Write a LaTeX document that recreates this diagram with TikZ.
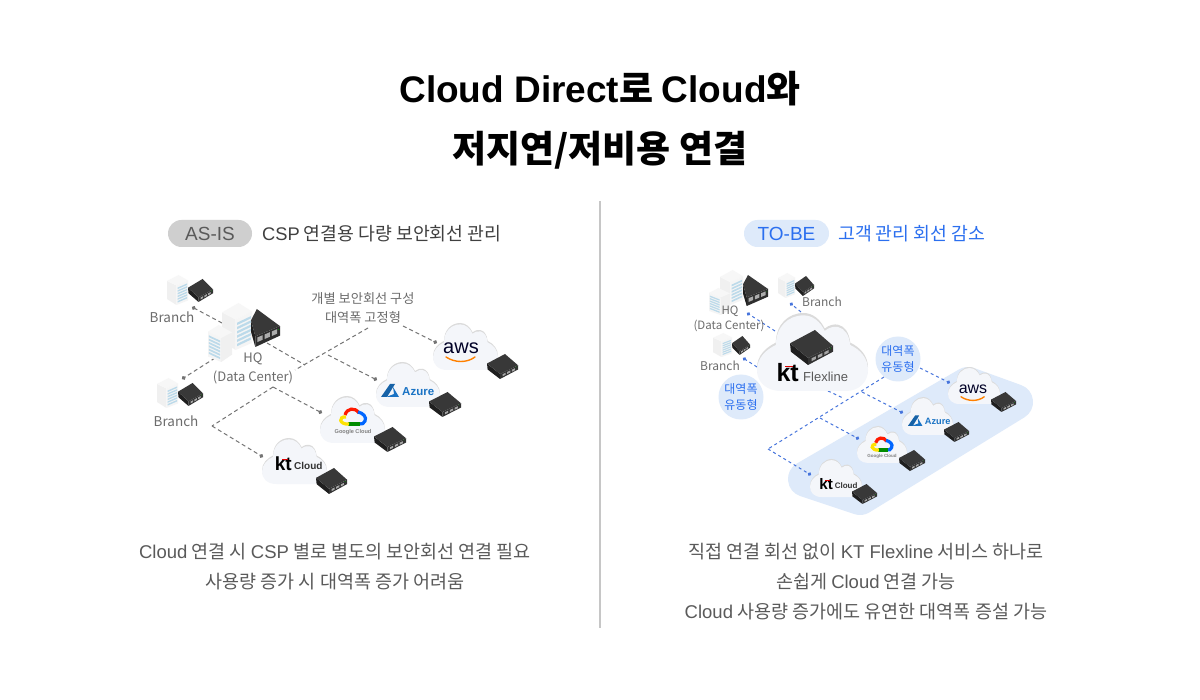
\documentclass[tikz,border=0pt]{standalone}
\usepackage{fontspec}
\setmainfont{Noto Sans CJK KR}
\newfontfamily\en{Liberation Sans}
\usetikzlibrary{arrows.meta}
\usetikzlibrary{positioning}

\definecolor{inkgrey}{HTML}{5A5A5A}
\definecolor{tobeblue}{HTML}{2B6FEF}
\definecolor{linkgrey}{HTML}{747474}
\definecolor{linkblue}{HTML}{4674DC}
\definecolor{softblue}{HTML}{DEEAFA}
\definecolor{windowblue}{HTML}{BCDAEA}
\definecolor{cloudbody}{HTML}{F4F6FA}
\definecolor{azureblue}{HTML}{1A73C4}

\newcommand{\cloudoutline}{(22,97) .. controls (8,97) and (0,85) .. (0,70) .. controls (0,55) and (8,44) .. (17,38) .. controls (17,15) and (28,0) .. (42,0) .. controls (50,0) and (57,8) .. (61,20) .. controls (65,15) and (70,14) .. (73,15) .. controls (79,17) and (83,25) .. (84,38) .. controls (93,44) and (100,55) .. (100,70) .. controls (100,85) and (92,97) .. (80,97) -- cycle}

\tikzset{
  titletext/.style = {font=\fontsize{37}{42}\selectfont\bfseries},
  headtext/.style = {font=\fontsize{18.3}{22}\selectfont, text=#1, anchor=west, inner sep=0pt},
  pilltext/.style = {font=\en\fontsize{19}{22}\selectfont, text=#1},
  captext/.style = {font=\fontsize{18.5}{22}\selectfont, text=inkgrey},
  smalltext/.style = {font=\fontsize{#1}{16}\selectfont, text=gray!85!black, inner sep=0pt},
  blobtext/.style = {font=\fontsize{12}{16}\selectfont, text=tobeblue, align=center, circle, fill=softblue, minimum size=45pt, inner sep=0pt},
  greylink/.style = {draw=linkgrey, line width=1pt, dash pattern=on 4pt off 3pt, -{Circle[length=4pt]}},
  greyline/.style = {draw=linkgrey, line width=1pt, dash pattern=on 4pt off 3pt},
  bluelink/.style = {draw=linkblue, line width=1pt, dash pattern=on 3pt off 3pt, -{Circle[length=3.5pt]}},
  blueline/.style = {draw=linkblue, line width=1pt, dash pattern=on 3pt off 3pt},
  serverpic/.pic = {
    \fill[black!88] (0,38) -- (42,80) -- (42,100) -- (2,62) -- cycle;
    \fill[black!80] (42,80) -- (100,45) -- (100,62) -- (42,100) -- cycle;
    \fill[black!78] (58,0) -- (100,45) -- (42,80) -- (0,38) -- cycle;
    \foreach \i in {0,1,2} \fill[gray!70] (50+\i*15,81-\i*9) -- (60+\i*15,75-\i*9) -- (60+\i*15,83-\i*9) -- (50+\i*15,89-\i*9) -- cycle;
    \fill[green!60!black] (94,52) circle (1.5);
  },
  tallserverpic/.pic = {
    \fill[black!88] (0,30) -- (15,72) -- (15,100) -- (0,60) -- cycle;
    \fill[black!82] (15,72) -- (100,45) -- (100,70) -- (15,100) -- cycle;
    \fill[black!78] (20,0) -- (100,45) -- (15,72) -- (0,30) -- cycle;
    \foreach \i in {0,1,2} \fill[gray!65] (22+\i*25,75-\i*8) -- (40+\i*25,69-\i*8) -- (40+\i*25,81-\i*8) -- (22+\i*25,87-\i*8) -- cycle;
    \fill[green!60!black] (95,54) circle (1.5);
  },
  towerpic/.pic = {
    \fill[gray!12] (0,20) -- (45,35) -- (45,100) -- (0,80) -- cycle;
    \fill[gray!6] (55,0) -- (100,18) -- (45,35) -- (0,20) -- cycle;
    \fill[white!92!gray] (45,35) -- (100,18) -- (100,85) -- (45,100) -- cycle;
    \foreach \i in {0,...,5} \fill[windowblue] (50,42+\i*9) -- (96,28+\i*9) -- (96,33+\i*9) -- (50,47+\i*9) -- cycle;
  },
  cloudpic/.pic = {
    \fill[gray!28] \cloudoutline;
    \fill[cloudbody, shift={(0,3)}] \cloudoutline;
  },
  awslogo/.pic = {
    \node[transform shape, inner sep=0pt, text=black!85!blue, font=\en\fontsize{20}{22}\selectfont] (awstext) at (0,-3) {aws};
    \draw[orange, line width=1.4pt, line cap=round] (-15,6) .. controls (-6,12) and (6,12) .. (14,6);
  },
  azurelogo/.pic = {
    \fill[azureblue!85!black] (-25,6) -- (-16,-7) -- (-11,-7) -- (-19,6) -- cycle;
    \fill[azureblue] (-13,-4) -- (-7,6) -- (-20,6) -- (-12,3) -- cycle;
    \node[transform shape, anchor=west, inner sep=0pt, text=azureblue, font=\en\fontsize{11.5}{14}\selectfont\bfseries] (azuretext) at (-4,1) {Azure};
  },
  googlelogo/.pic = {
    \begin{scope}[line width=3.2pt]
      \draw[red!80!orange] (-8,-4) .. controls (-6,-11) and (2,-12) .. (6,-6);
      \draw[blue!60!cyan] (5,-7) .. controls (10,-6) and (14,-2) .. (12,2) .. controls (11,5) and (9,5) .. (6,5);
      \draw[green!55!black] (7,5) -- (-5,5);
      \draw[yellow!85!orange] (-4,5) .. controls (-14,6) and (-15,-3) .. (-7,-2);
    \end{scope}
    \node[transform shape, inner sep=0pt, text=gray, font=\en\fontsize{5.6}{8}\selectfont\bfseries] (googletext) at (0,13) {Google Cloud};
  },
  ktlogo/.pic = {
    \node[transform shape, anchor=east, inner sep=0pt, text=black, font=\en\fontsize{19}{22}\selectfont\bfseries] (kttext) at (-5,0) {kt};
    \fill[red!85!black] (-15,-5) rectangle (-9,-4);
    \node[transform shape, anchor=west, inner sep=0pt, text=black!80, font=\en\fontsize{10}{14}\selectfont\bfseries] (cloudtext) at (-3,2) {Cloud};
  }
}

\begin{document}
\begin{tikzpicture}[x=1pt,y=-1pt]
	\useasboundingbox (0,0) rectangle (1200,700);
	\fill[white] (0,0) rectangle (1200,700);

	% title
	\node[titletext] (titleA) at (600,89) {{\en Cloud Direct}로 {\en Cloud}와};
	\node[titletext] (titleB) at (600,150) {저지연/저비용 연결};

	\coordinate (midTop) at (600,201);
	\coordinate (midEnd) at (600,628);
	\draw[gray!45, line width=1.3pt] (midTop) -- (midEnd);

	% headers
	\node[pilltext=inkgrey, fill=gray!38, rounded corners=13.5pt, minimum width=84pt, minimum height=27pt, inner sep=0pt] (asis) at (210,233.5) {AS-IS};
	\node[headtext=black!75] (asisText) at (262,234) {{\en CSP} 연결용 다량 보안회선 관리};
	\node[pilltext=tobeblue, fill=softblue, rounded corners=13.5pt, minimum width=85pt, minimum height=27pt, inner sep=0pt] (tobe) at (786.5,233.5) {TO-BE};
	\node[headtext=tobeblue] (tobeText) at (838,234) {고객 관리 회선 감소};

	% AS-IS links
	\coordinate (lBranchA) at (192,307);
	\coordinate (lHqA) at (222,323);
	\coordinate (lBranchB) at (182,379);
	\coordinate (lHqB) at (215,358);
	\coordinate (lHqC) at (267,343);
	\coordinate (lMid) at (305,365);
	\coordinate (lSplitA) at (403,326);
	\coordinate (lDiagA) at (368,328);
	\coordinate (lDiagB) at (295,370);
	\coordinate (lDiagC) at (273,387);
	\coordinate (lFork) at (212,426);
	\coordinate (lAws) at (437,343);
	\coordinate (lAzureS) at (328,355);
	\coordinate (lAzure) at (377,380);
	\coordinate (lGoogle) at (322,413);
	\coordinate (lKt) at (263,457);
	\draw[greylink] (lHqA) -- (lBranchA);
	\draw[greylink] (lHqB) -- (lBranchB);
	\draw[greyline] (lHqC) -- (lMid);
	\draw[greyline] (lDiagA) -- (lDiagB);
	\draw[greyline] (lDiagC) -- (lFork);
	\draw[greylink] (lSplitA) -- (lAws);
	\draw[greylink] (lAzureS) -- (lAzure);
	\draw[greylink] (lDiagC) -- (lGoogle);
	\draw[greylink] (lFork) -- (lKt);

	% AS-IS sites
	\pic[xscale=.21,yscale=.30] (lTowerA) at (167,275) {towerpic};
	\pic[xscale=.25,yscale=.23] (lServerA) at (188,279) {serverpic};
	\pic[xscale=.30,yscale=.47] (lTowerB) at (222,303) {towerpic};
	\pic[xscale=-.24,yscale=.37] (lTowerC) at (232,325) {towerpic};
	\pic[xscale=.29,yscale=.38] (lServerB) at (251,309) {tallserverpic};
	\pic[xscale=.21,yscale=.30] (lTowerD) at (157,378) {towerpic};
	\pic[xscale=.25,yscale=.23] (lServerC) at (178,383) {serverpic};

	\node[smalltext=13.5] (lBranchTextA) at (172,317) {Branch};
	\node[smalltext=13.5] (lBranchTextB) at (176,421) {Branch};
	\node[smalltext=13] (lHqText) at (253,359) {HQ};
	\node[smalltext=13] (lDcText) at (253,377) {(Data Center)};
	\node[smalltext=13.2] (lNoteA) at (363,299) {개별 보안회선 구성};
	\node[smalltext=13.2] (lNoteB) at (363,318) {대역폭 고정형};

	% AS-IS clouds
	\pic[xscale=.65,yscale=.47] (lCloudA) at (433,323) {cloudpic};
	\pic[xscale=.64,yscale=.45] (lCloudB) at (376,362) {cloudpic};
	\pic[xscale=.65,yscale=.47] (lCloudC) at (320,396) {cloudpic};
	\pic[xscale=.65,yscale=.46] (lCloudD) at (262,438) {cloudpic};
	\pic (lAwsLogo) at (461,351) {awslogo};
	\pic (lAzureLogo) at (406,391) {azurelogo};
	\pic (lGoogleLogo) at (353,419) {googlelogo};
	\pic (lKtLogo) at (297,464) {ktlogo};
	\pic[xscale=.31,yscale=.25] (lServerD) at (487,354) {serverpic};
	\pic[xscale=.32,yscale=.25] (lServerE) at (429,392) {serverpic};
	\pic[xscale=.32,yscale=.25] (lServerF) at (374,427) {serverpic};
	\pic[xscale=.31,yscale=.26] (lServerG) at (316,468) {serverpic};

	% TO-BE pad
	\fill[softblue, line width=36pt, line join=round, draw=softblue] (806,479) -- (968,385) -- (1015,402) -- (860,497) -- cycle;

	% TO-BE links
	\coordinate (rCloudA) at (801,312);
	\coordinate (rBranchA) at (790,303);
	\coordinate (rCloudB) at (775,331);
	\coordinate (rHq) at (747,313);
	\coordinate (rCloudC) at (757,367);
	\coordinate (rBranchB) at (743,358);
	\coordinate (rOutA) at (828,391);
	\coordinate (rOutB) at (843,398);
	\coordinate (rDiagA) at (884,377);
	\coordinate (rFork) at (768,449);
	\coordinate (rKt) at (811,475);
	\coordinate (rBlob) at (920,368);
	\coordinate (rAws) at (950,383);
	\coordinate (rAzureS) at (862,392);
	\coordinate (rAzure) at (903,413);
	\coordinate (rGoogleS) at (820,418);
	\coordinate (rGoogle) at (859,439);
	\draw[bluelink] (rCloudA) -- (rBranchA);
	\draw[bluelink] (rCloudB) -- (rHq);
	\draw[bluelink] (rCloudC) -- (rBranchB);
	\draw[blueline] (rOutA) -- (rOutB);
	\draw[blueline] (rDiagA) -- (rFork);
	\draw[bluelink] (rFork) -- (rKt);
	\draw[bluelink] (rBlob) -- (rAws);
	\draw[bluelink] (rAzureS) -- (rAzure);
	\draw[bluelink] (rGoogleS) -- (rGoogle);

	% TO-BE sites
	\pic[xscale=.23,yscale=.35] (rTowerA) at (720,270) {towerpic};
	\pic[xscale=-.21,yscale=.27] (rTowerB) at (730,288) {towerpic};
	\pic[xscale=.25,yscale=.31] (rServerA) at (743,275) {tallserverpic};
	\pic[xscale=.17,yscale=.25] (rTowerC) at (778,273) {towerpic};
	\pic[xscale=.19,yscale=.20] (rServerB) at (795,276) {serverpic};
	\pic[xscale=.19,yscale=.24] (rTowerD) at (713,333) {towerpic};
	\pic[xscale=.18,yscale=.19] (rServerC) at (732,336) {serverpic};

	\node[smalltext=11.5] (rHqText) at (730,311) {HQ};
	\node[smalltext=11.5] (rDcText) at (729,326) {(Data Center)};
	\node[smalltext=12] (rBranchTextA) at (822,302) {Branch};
	\node[smalltext=12] (rBranchTextB) at (720,366) {Branch};

	% TO-BE flexline cloud
	\pic[xscale=1.11,yscale=.78] (rFlex) at (757,313) {cloudpic};
	\pic[xscale=.43,yscale=.35] (rServerD) at (790,330) {serverpic};
	\node[inner sep=0pt, text=black, font=\en\fontsize{25}{28}\selectfont\bfseries, anchor=east] (rKtBig) at (799,373) {kt};
	\node[inner sep=0pt, text=black!65, font=\en\fontsize{13}{16}\selectfont, anchor=west] (rFlexText) at (803,377) {Flexline};
	\fill[red!85!black] (785,366) rectangle (793,367.5);

	% TO-BE blobs
	\node[blobtext] (rBlobA) at (741,397) {대역폭\\유동형};
	\node[blobtext] (rBlobB) at (898,359) {대역폭\\유동형};

	% TO-BE clouds
	\pic[xscale=.52,yscale=.37] (rCloudW) at (948,367) {cloudpic};
	\pic[xscale=.51,yscale=.38] (rCloudX) at (902,397) {cloudpic};
	\pic[xscale=.50,yscale=.37] (rCloudY) at (857,426) {cloudpic};
	\pic[xscale=.52,yscale=.38] (rCloudZ) at (810,459) {cloudpic};
	\pic[scale=.8] (rAwsLogo) at (973,392) {awslogo};
	\pic[scale=.8] (rAzureLogo) at (928,421) {azurelogo};
	\pic[scale=.8] (rGoogleLogo) at (882,446) {googlelogo};
	\pic[scale=.8] (rKtLogo) at (837,484) {ktlogo};
	\pic[xscale=.25,yscale=.20] (rServerE) at (991,392) {serverpic};
	\pic[xscale=.25,yscale=.20] (rServerF) at (944,422) {serverpic};
	\pic[xscale=.26,yscale=.21] (rServerG) at (899,450) {serverpic};
	\pic[xscale=.25,yscale=.20] (rServerH) at (852,484) {serverpic};

	% captions
	\node[captext] (capA) at (335,552) {{\en Cloud} 연결 시 {\en CSP} 별로 별도의 보안회선 연결 필요};
	\node[captext] (capB) at (335,582) {사용량 증가 시 대역폭 증가 어려움};
	\node[captext] (capC) at (866,552) {직접 연결 회선 없이 {\en KT Flexline} 서비스 하나로};
	\node[captext] (capD) at (866,582) {손쉽게 {\en Cloud} 연결 가능};
	\node[captext] (capE) at (866,612) {{\en Cloud} 사용량 증가에도 유연한 대역폭 증설 가능};

\end{tikzpicture}
\end{document}
